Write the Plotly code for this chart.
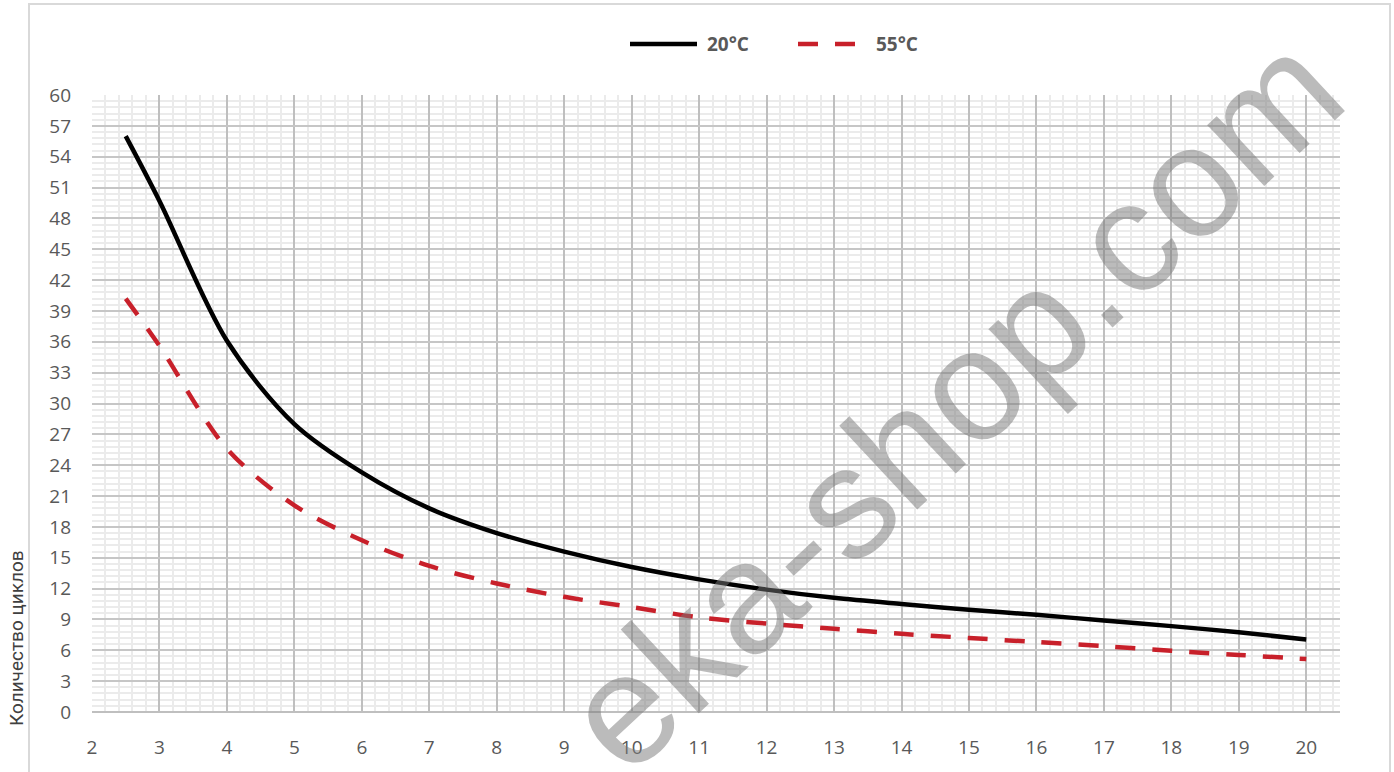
import plotly.graph_objects as go

# Data
x_vals = [2.5, 3, 4, 5, 6, 7, 8, 9, 10, 11, 12, 13, 14, 15, 16, 17, 18, 19, 20]
cycles_20c = [56.0, 49.7, 36.1, 28.0, 23.3, 19.8, 17.4, 15.6, 14.1, 12.9, 11.9, 11.1,
              10.5, 9.95, 9.45, 8.9, 8.35, 7.75, 7.05]
cycles_55c = [40.2, 35.6, 25.6, 20.1, 16.7, 14.2, 12.5, 11.2, 10.2, 9.2, 8.6, 8.1,
              7.6, 7.2, 6.8, 6.4, 5.95, 5.55, 5.15]
series_names = ["20°C", "55°C"]
series_colors = ["#000000", "#c8202a"]
y_title = "Количество циклов"
watermark = "eka-shop.com"

W, H = 1394, 772
L, R, T, B = 92, 1340, 95, 712  # plot area in screen pixels


def px(xp):
    return (xp - L) / (R - L)


def py(yp):
    return (B - yp) / (B - T)


fig = go.Figure()
fig.add_trace(go.Scatter(
    x=x_vals, y=cycles_20c, name=series_names[0], mode="lines",
    line=dict(color=series_colors[0], width=4.5, shape="spline", smoothing=0.9),
))
fig.add_trace(go.Scatter(
    x=x_vals, y=cycles_55c, name=series_names[1], mode="lines",
    line=dict(color=series_colors[1], width=4.5, dash="20px,17px", shape="spline",
              smoothing=0.9),
))

tick_font = dict(family="Open Sans, DejaVu Sans, sans-serif", size=19, color="#595959")

fig.update_layout(
    width=W, height=H,
    margin=dict(l=L, r=W - R, t=T, b=H - B, pad=0),
    paper_bgcolor="white", plot_bgcolor="white",
    showlegend=False,
    xaxis=dict(
        range=[2, 20.5], tick0=2, dtick=1, tickfont=tick_font,
        showgrid=True, gridcolor="#bfbfbf", gridwidth=1.5,
        minor=dict(dtick=0.2, tick0=2, showgrid=True, gridcolor="#ebebeb", gridwidth=1.5),
        zeroline=False, showline=False, ticks="", ticklabelstandoff=22,
    ),
    yaxis=dict(
        range=[0, 60], tick0=0, dtick=3, tickfont=tick_font,
        showgrid=True, gridcolor="#c6c6c6", gridwidth=1.5,
        minor=dict(dtick=0.6, tick0=0, showgrid=True, gridcolor="#ebebeb", gridwidth=1.5),
        zeroline=False, showline=False, ticks="", ticklabelstandoff=20,
    ),
)

# bottom axis line
fig.add_shape(type="line", xref="paper", yref="paper", x0=0, x1=1, y0=0, y1=0,
              line=dict(color="#bfbfbf", width=2), layer="above")

# outer chart border
fig.add_shape(type="rect", xref="paper", yref="paper",
              x0=px(29), x1=px(1390), y0=py(4), y1=py(800),
              line=dict(color="#d9d9d9", width=2), layer="below")

# legend (drawn manually to match the reference spacing)
legend_font = dict(family="Open Sans, DejaVu Sans, sans-serif", size=19, color="#595959",
                   weight="bold")
fig.add_shape(type="line", xref="paper", yref="paper", x0=px(630), x1=px(697),
              y0=py(44), y1=py(44), line=dict(color=series_colors[0], width=4.5))
fig.add_annotation(text=f"<b>{series_names[0]}</b>", xref="paper", yref="paper",
                   x=px(705), y=py(44), xanchor="left", yanchor="middle", showarrow=False,
                   font=legend_font)
fig.add_shape(type="line", xref="paper", yref="paper", x0=px(798), x1=px(857),
              y0=py(44), y1=py(44),
              line=dict(color=series_colors[1], width=4.5, dash="20px,17px"))
fig.add_annotation(text=f"<b>{series_names[1]}</b>", xref="paper", yref="paper",
                   x=px(874), y=py(44), xanchor="left", yanchor="middle", showarrow=False,
                   font=legend_font)

# y-axis title
fig.add_annotation(text=y_title, xref="paper", yref="paper", x=px(16), y=py(638),
                   textangle=-90, showarrow=False, xanchor="center", yanchor="middle",
                   font=dict(family="Liberation Sans Narrow, Roboto, sans-serif", size=19,
                             color="#404040"))

# watermark
fig.add_annotation(text=watermark, xref="paper", yref="paper", x=px(952), y=py(402),
                   textangle=-43, showarrow=False, xanchor="center", yanchor="middle",
                   font=dict(family="Liberation Sans, Arial, sans-serif", size=158,
                             color="rgba(120,120,120,0.5)"))

fig.write_html("out.html", config={"displayModeBar": False},
               post_script="document.body.style.margin='0';document.body.style.overflow='hidden';")
